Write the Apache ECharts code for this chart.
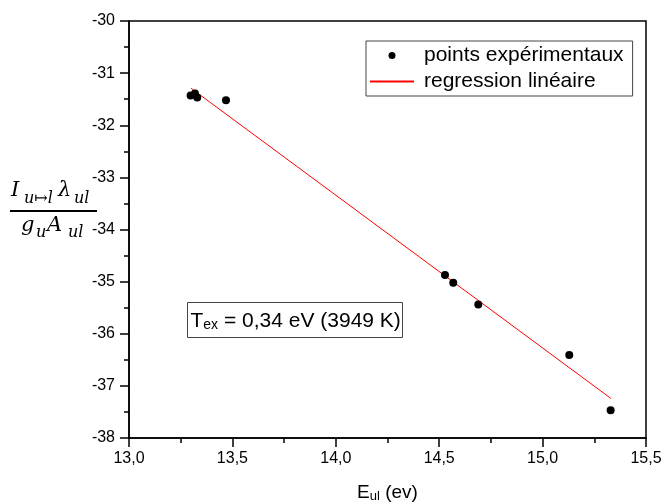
<!DOCTYPE html>
<html>
<head>
<meta charset="utf-8">
<script src="https://cdn.jsdelivr.net/npm/echarts@6/dist/echarts.min.js"></script>
<style>html,body{margin:0;padding:0;background:#fff;}#c{width:664px;height:504px;}</style>
</head>
<body>
<div id="c"></div>
<script>
const xPoints = [13.298, 13.319, 13.330, 13.469, 14.528, 14.568, 14.689, 15.129, 15.329];
const yPoints = [-31.43, -31.39, -31.47, -31.52, -34.875, -35.02, -35.44, -36.41, -37.47];
const xFit = [13.30, 15.33];
const yFit = [-31.29, -37.24];
const seriesNames = ['points expérimentaux', 'regression linéaire'];
const xTickMin = 13.0, xTickMax = 15.5, xTickStep = 0.5;
const yTickMin = -38, yTickMax = -30, yTickStep = 1;
const annotation = 'T{s|ex} = 0,34 eV (3949 K)';

const font = 'Liberation Sans, Arial, Helvetica, sans-serif';
const serif = 'DejaVu Serif, Liberation Serif, serif';
const chart = echarts.init(document.getElementById('c'), null, {renderer: 'canvas'});

const scatterData = xPoints.map((x, i) => [x, yPoints[i]]);
const fitData = xFit.map((x, i) => [x, yFit[i]]);

chart.setOption({
  animation: false,
  backgroundColor: '#fff',
  grid: {left: 129, right: 18, top: 21, bottom: 66, containLabel: false, outerBoundsMode: 'none',
    show: true, borderColor: '#000', borderWidth: 1.5, backgroundColor: 'transparent'},
  xAxis: {
    type: 'value', min: xTickMin, max: xTickMax, interval: xTickStep,
    splitLine: {show: false},
    axisLine: {show: true, onZero: false, lineStyle: {color: '#000', width: 1.5}},
    axisTick: {show: true, inside: false, length: 9, lineStyle: {color: '#000', width: 1.5}},
    minorTick: {show: true, splitNumber: 2, length: 5, lineStyle: {color: '#000', width: 1.5}},
    axisLabel: {color: '#000', fontFamily: font, fontSize: 16, margin: 13,
      formatter: v => v.toFixed(1).replace('.', ',')},
    name: 'E{s|ul} (ev)', nameLocation: 'middle', nameGap: 45,
    nameTextStyle: {color: '#000', fontFamily: font, fontSize: 19, lineHeight: 20,
      rich: {s: {fontFamily: font, fontSize: 13, verticalAlign: 'bottom', lineHeight: 11}}}
  },
  yAxis: {
    type: 'value', min: yTickMin, max: yTickMax, interval: yTickStep,
    splitLine: {show: false},
    axisLine: {show: true, onZero: false, lineStyle: {color: '#000', width: 1.5}},
    axisTick: {show: true, inside: false, length: 9, lineStyle: {color: '#000', width: 1.5}},
    minorTick: {show: true, splitNumber: 2, length: 5, lineStyle: {color: '#000', width: 1.5}},
    axisLabel: {color: '#000', fontFamily: font, fontSize: 16, margin: 14}
  },
  legend: {
    orient: 'vertical', left: 366, top: 41,
    padding: [4, 9, 4, 3], itemGap: 5,
    itemWidth: 44, itemHeight: 7,
    borderColor: '#444', borderWidth: 1, backgroundColor: '#fff',
    textStyle: {color: '#000', fontFamily: font, fontSize: 21, lineHeight: 21, padding: [0, 0, 0, 5]},
    data: [
      {name: seriesNames[0], icon: 'circle', itemStyle: {color: '#000', opacity: 1}},
      {name: seriesNames[1], itemStyle: {opacity: 0}}
    ]
  },
  series: [
    {name: seriesNames[0], type: 'scatter', data: scatterData, symbol: 'circle', symbolSize: 8,
      itemStyle: {color: '#000', opacity: 1}, z: 3},
    {name: seriesNames[1], type: 'line', data: fitData, showSymbol: false, symbol: 'none',
      itemStyle: {color: '#f00'}, lineStyle: {color: '#f00', width: 1}, z: 2}
  ],
  graphic: [
    {type: 'group', left: 187, top: 302, children: [
      {type: 'rect', shape: {x: 0, y: 0, width: 215, height: 35}, style: {fill: '#fff', stroke: '#444', lineWidth: 1}},
      {type: 'text', x: 3, y: 19, style: {text: annotation, fill: '#000', font: '21px ' + font, verticalAlign: 'middle', lineHeight: 22,
        rich: {s: {fontSize: 14, fontFamily: font, fill: '#000', verticalAlign: 'bottom', lineHeight: 14}}}}
    ]},
    // y-axis label fraction
    {type: 'text', x: 11, y: 191, style: {text: 'I', fill: '#000', font: 'italic 21px ' + serif, verticalAlign: 'middle'}},
    {type: 'text', x: 24, y: 199, style: {text: 'u↦l', fill: '#000', font: 'italic 16px ' + serif, verticalAlign: 'middle'}},
    {type: 'text', x: 58, y: 191, style: {text: 'λ', fill: '#000', font: 'italic 21px ' + serif, verticalAlign: 'middle'}},
    {type: 'text', x: 74, y: 199, style: {text: 'ul', fill: '#000', font: 'italic 16px ' + serif, verticalAlign: 'middle'}},
    {type: 'rect', shape: {x: 10, y: 210, width: 87, height: 2}, style: {fill: '#000'}},
    {type: 'text', x: 21, y: 226, style: {text: 'g', fill: '#000', font: 'italic 21px ' + serif, verticalAlign: 'middle'}},
    {type: 'text', x: 36, y: 233, style: {text: 'u', fill: '#000', font: 'italic 16px ' + serif, verticalAlign: 'middle'}},
    {type: 'text', x: 47, y: 226, style: {text: 'A', fill: '#000', font: 'italic 21px ' + serif, verticalAlign: 'middle'}},
    {type: 'text', x: 68, y: 233, style: {text: 'ul', fill: '#000', font: 'italic 16px ' + serif, verticalAlign: 'middle'}}
  ]
});
</script>
</body>
</html>
